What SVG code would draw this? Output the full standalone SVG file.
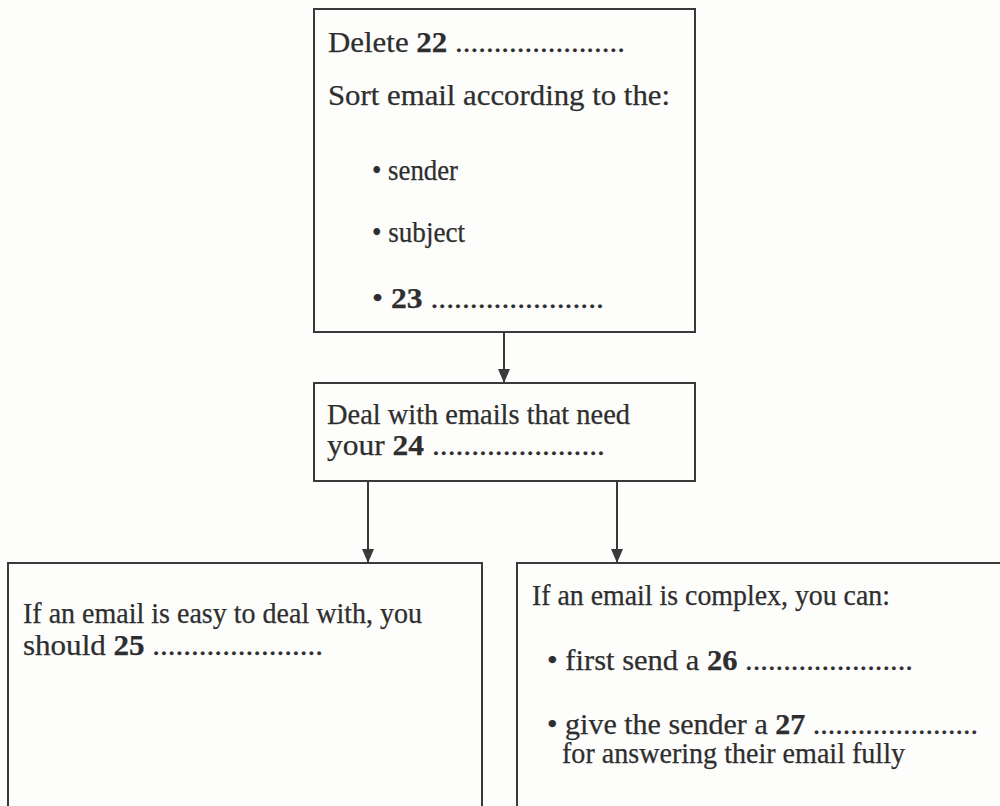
<svg xmlns="http://www.w3.org/2000/svg" width="1000" height="806" viewBox="0 0 1000 806">
<defs>
<style>
.box{fill:none;stroke:#3a3a3a;stroke-width:2}
.t{font-family:"Liberation Serif","Times New Roman",serif;font-size:28.5px;fill:#2e2e2e;stroke:#2e2e2e;stroke-width:0.25}
.b{font-weight:bold}
.con{stroke:#3a3a3a;stroke-width:2;fill:none}
</style>
<marker id="arr" viewBox="0 0 14 12" refX="14" refY="6" markerWidth="14" markerHeight="12" markerUnits="userSpaceOnUse" orient="auto">
<path d="M0,0 L14,6 L0,12 Z" fill="#3a3a3a"/>
</marker>
</defs>
<rect width="1000" height="806" fill="#fdfdfc"/>
<g id="connectors">
<line class="con" x1="504" y1="332" x2="504" y2="383" marker-end="url(#arr)"/>
<line class="con" x1="368" y1="481" x2="368" y2="563" marker-end="url(#arr)"/>
<line class="con" x1="617" y1="481" x2="617" y2="563" marker-end="url(#arr)"/>
</g>
<g id="node-sort">
<rect class="box" x="314" y="9" width="381" height="323"/>
<text class="t" x="328" y="52" textLength="297" lengthAdjust="spacingAndGlyphs">Delete <tspan class="b">22</tspan> ......................</text>
<text class="t" x="328" y="105" textLength="342" lengthAdjust="spacingAndGlyphs">Sort email according to the:</text>
<text class="t" x="372" y="180" textLength="86" lengthAdjust="spacingAndGlyphs">• sender</text>
<text class="t" x="372" y="242" textLength="93" lengthAdjust="spacingAndGlyphs">• subject</text>
<text class="t" x="372" y="308" textLength="232" lengthAdjust="spacingAndGlyphs">• <tspan class="b">23</tspan> ......................</text>
</g>
<g id="node-deal">
<rect class="box" x="314" y="383" width="381" height="98"/>
<text class="t" x="327" y="424" textLength="303" lengthAdjust="spacingAndGlyphs">Deal with emails that need</text>
<text class="t" x="327" y="455" textLength="278" lengthAdjust="spacingAndGlyphs">your <tspan class="b">24</tspan> ......................</text>
</g>
<g id="node-easy">
<rect class="box" x="8" y="563" width="474" height="260"/>
<text class="t" x="23" y="623" textLength="399" lengthAdjust="spacingAndGlyphs">If an email is easy to deal with, you</text>
<text class="t" x="23" y="655" textLength="300" lengthAdjust="spacingAndGlyphs">should <tspan class="b">25</tspan> ......................</text>
</g>
<g id="node-complex">
<rect class="box" x="517" y="563" width="500" height="260"/>
<text class="t" x="532" y="605" textLength="358" lengthAdjust="spacingAndGlyphs">If an email is complex, you can:</text>
<text class="t" x="547" y="670" textLength="366" lengthAdjust="spacingAndGlyphs">• first send a <tspan class="b">26</tspan> ......................</text>
<text class="t" x="547" y="734" textLength="431" lengthAdjust="spacingAndGlyphs">• give the sender a <tspan class="b">27</tspan> ......................</text>
<text class="t" x="562" y="763" textLength="343" lengthAdjust="spacingAndGlyphs">for answering their email fully</text>
</g>
</svg>
